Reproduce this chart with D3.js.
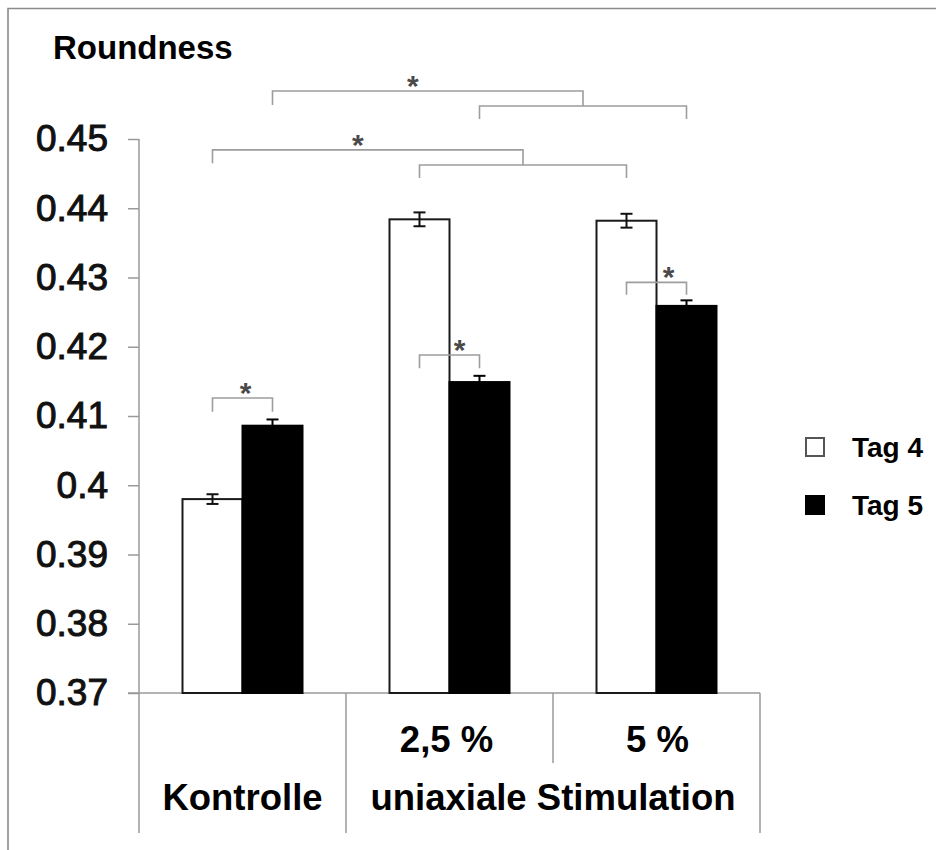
<!DOCTYPE html>
<html>
<head>
<meta charset="utf-8">
<script src="https://cdn.jsdelivr.net/npm/d3@7"></script>
<style>
  html, body { margin: 0; padding: 0; background: #fff; }
  svg { display: block; font-family: "Liberation Sans", Arial, Helvetica, sans-serif; }
</style>
</head>
<body>
<svg id="chart" width="936" height="850"></svg>
<script>
// Groups along the x axis and the two measurement days
const groups = ["Kontrolle", "2,5 %", "5 %"];
const series = ["Tag 4", "Tag 5"];

// Mean roundness per group (Tag 4, Tag 5) and standard error
const tag4Values = [0.3980, 0.4384, 0.4382];
const tag5Values = [0.4086, 0.4149, 0.4259];
const tag4Errors = [0.0007, 0.0010, 0.0010];
const tag5Errors = [0.0009, 0.0009, 0.0008];

// Y axis ticks
const yTickValues = [0.37, 0.38, 0.39, 0.40, 0.41, 0.42, 0.43, 0.44, 0.45];
const yTickLabels = ["0.37", "0.38", "0.39", "0.4", "0.41", "0.42", "0.43", "0.44", "0.45"];

// Significance brackets within a group: bar level, leg end level, star shift
const pairBrackets = [
  { group: "Kontrolle", level: 0.4126, legEnd: 0.4106, starShift: 3 },
  { group: "2,5 %",     level: 0.4188, legEnd: 0.4169, starShift: 10 },
  { group: "5 %",       level: 0.4293, legEnd: 0.4275, starShift: 12 }
];

// Brackets comparing the control day with both stimulation groups
const groupBrackets = [
  { day: "Tag 5", level: 0.45693, legEnd: 0.4549, subLevel: 0.45477, subLegEnd: 0.45289, starShift: -15 },
  { day: "Tag 4", level: 0.44843, legEnd: 0.4465, subLevel: 0.44625, subLegEnd: 0.44437, starShift: -10 }
];

const svg = d3.select("#chart");
const font = "'Liberation Sans', Arial, Helvetica, sans-serif";
const axisGray = "#9a9a9a";
const bracketGray = "#9d9d9d";

// Outer frame (top and left edges)
svg.append("path")
  .attr("d", "M8,851 L8,8.5 L937,8.5")
  .attr("fill", "none")
  .attr("stroke", "#8a8a8a")
  .attr("stroke-width", 1.6);

const plot = { left: 139, right: 760, top: 139, bottom: 693 };

const x = d3.scaleBand().domain(groups).range([plot.left, plot.right]).padding(0);
const xSub = d3.scaleBand().domain(series).range([0, x.bandwidth()])
  .paddingInner(0).paddingOuter(0.725);
const y = d3.scaleLinear().domain([0.37, 0.45]).range([plot.bottom, plot.top]);

const rows = groups.map((g, i) => ({
  group: g,
  bars: [
    { day: "Tag 4", value: tag4Values[i], err: tag4Errors[i] },
    { day: "Tag 5", value: tag5Values[i], err: tag5Errors[i] }
  ]
}));

const barCenter = (g, day) => x(g) + xSub(day) + xSub.bandwidth() / 2;

// Y axis
const yAxis = d3.axisLeft(y)
  .tickValues(yTickValues)
  .tickFormat((d, i) => yTickLabels[i])
  .tickSize(11)
  .tickPadding(20);

const yG = svg.append("g")
  .attr("transform", `translate(${plot.left},0)`)
  .call(yAxis);
yG.select(".domain").remove();
yG.append("line")
  .attr("x1", 0).attr("x2", 0)
  .attr("y1", y(0.45)).attr("y2", plot.bottom)
  .attr("stroke", axisGray).attr("stroke-width", 1.5);
yG.selectAll(".tick line").attr("stroke", axisGray).attr("stroke-width", 1.5);
yG.selectAll(".tick text")
  .attr("font-family", font)
  .attr("font-size", 37)
  .attr("fill", "#111")
  .attr("stroke", "#111")
  .attr("stroke-width", 1)
  .attr("dy", "0.32em");

// X axis line and category separators below it
svg.append("line")
  .attr("x1", plot.left - 11).attr("x2", plot.right)
  .attr("y1", plot.bottom).attr("y2", plot.bottom)
  .attr("stroke", axisGray).attr("stroke-width", 1.5);

const separators = [
  { x: x("Kontrolle"), end: 833 },
  { x: x("2,5 %"), end: 833 },
  { x: x("5 %"), end: 763 },
  { x: x("5 %") + x.bandwidth(), end: 833 }
];
svg.append("g").selectAll("line")
  .data(separators)
  .join("line")
  .attr("x1", d => d.x).attr("x2", d => d.x)
  .attr("y1", plot.bottom).attr("y2", d => d.end)
  .attr("stroke", axisGray).attr("stroke-width", 1.5);

// Bars
const gGroups = svg.append("g").selectAll("g")
  .data(rows)
  .join("g")
  .attr("transform", d => `translate(${x(d.group)},0)`);

gGroups.selectAll("rect")
  .data(d => d.bars)
  .join("rect")
  .attr("x", d => xSub(d.day))
  .attr("width", xSub.bandwidth())
  .attr("y", d => y(d.value))
  .attr("height", d => y(0.37) - y(d.value))
  .attr("fill", d => d.day === "Tag 4" ? "#fff" : "#000")
  .attr("stroke", d => d.day === "Tag 4" ? "#1a1a1a" : "#000")
  .attr("stroke-width", 2);

// Error bars
const capHalf = 6;
gGroups.selectAll("g.err")
  .data(d => d.bars)
  .join("g")
  .attr("class", "err")
  .each(function(d) {
    const cx = xSub(d.day) + xSub.bandwidth() / 2;
    const g = d3.select(this);
    const stroke = d.day === "Tag 4" ? "#111" : "#000";
    g.append("line").attr("x1", cx).attr("x2", cx)
      .attr("y1", y(d.value + d.err)).attr("y2", y(d.value - d.err))
      .attr("stroke", stroke).attr("stroke-width", 2);
    [d.value + d.err, d.value - d.err].forEach(v => {
      g.append("line").attr("x1", cx - capHalf).attr("x2", cx + capHalf)
        .attr("y1", y(v)).attr("y2", y(v))
        .attr("stroke", stroke).attr("stroke-width", 2);
    });
  });

// Significance brackets inside each group
const bracketLayer = svg.append("g")
  .attr("fill", "none")
  .attr("stroke", bracketGray)
  .attr("stroke-width", 1.6);

const star = (cx, lineY) => svg.append("text")
  .attr("x", cx)
  .attr("y", lineY + 5)
  .attr("text-anchor", "middle")
  .attr("font-family", font)
  .attr("font-weight", "bold")
  .attr("font-size", 30)
  .attr("fill", "#4a4a4a")
  .text("*");

pairBrackets.forEach(b => {
  const x1 = barCenter(b.group, "Tag 4");
  const x2 = barCenter(b.group, "Tag 5");
  bracketLayer.append("path")
    .attr("d", `M${x1},${y(b.legEnd)} V${y(b.level)} H${x2} V${y(b.legEnd)}`);
  star((x1 + x2) / 2 + b.starShift, y(b.level));
});

// Brackets comparing control with both stimulation groups
groupBrackets.forEach(b => {
  const left = barCenter("Kontrolle", b.day);
  const s1 = barCenter("2,5 %", b.day);
  const s2 = barCenter("5 %", b.day);
  const mid = (s1 + s2) / 2;
  bracketLayer.append("path")
    .attr("d", `M${left},${y(b.legEnd)} V${y(b.level)} H${mid} V${y(b.subLevel)}`);
  bracketLayer.append("path")
    .attr("d", `M${s1},${y(b.subLegEnd)} V${y(b.subLevel)} H${s2} V${y(b.subLegEnd)}`);
  star((left + mid) / 2 + b.starShift, y(b.level));
});

// Title
svg.append("text")
  .attr("x", 53).attr("y", 59)
  .attr("font-family", font)
  .attr("font-weight", "bold")
  .attr("font-size", 33)
  .attr("fill", "#000")
  .text("Roundness");

// Category labels
const labelStyle = sel => sel
  .attr("font-family", font)
  .attr("font-weight", "bold")
  .attr("font-size", 36.5)
  .attr("fill", "#000")
  .attr("text-anchor", "middle");

svg.append("text").call(labelStyle)
  .attr("x", x("2,5 %") + x.bandwidth() / 2 - 3).attr("y", 752)
  .text("2,5 %");
svg.append("text").call(labelStyle)
  .attr("x", x("5 %") + x.bandwidth() / 2 + 1).attr("y", 752)
  .text("5 %");
svg.append("text").call(labelStyle)
  .attr("x", x("Kontrolle") + x.bandwidth() / 2).attr("y", 810)
  .text("Kontrolle");
svg.append("text").call(labelStyle)
  .attr("x", x("5 %")).attr("y", 810)
  .text("uniaxiale Stimulation");

// Legend
const legend = svg.append("g").attr("transform", "translate(805,437)");
const legendItems = legend.selectAll("g")
  .data(series)
  .join("g")
  .attr("transform", (d, i) => `translate(0,${i * 58})`);
legendItems.append("rect")
  .attr("x", 1).attr("y", 1)
  .attr("width", 18).attr("height", 18)
  .attr("fill", (d, i) => i === 0 ? "#fff" : "#000")
  .attr("stroke", (d, i) => i === 0 ? "#555" : "#000")
  .attr("stroke-width", 2);
legendItems.append("text")
  .attr("x", 47).attr("y", 20)
  .attr("font-family", font)
  .attr("font-weight", "bold")
  .attr("font-size", 28)
  .attr("fill", "#000")
  .text(d => d);
</script>
</body>
</html>
